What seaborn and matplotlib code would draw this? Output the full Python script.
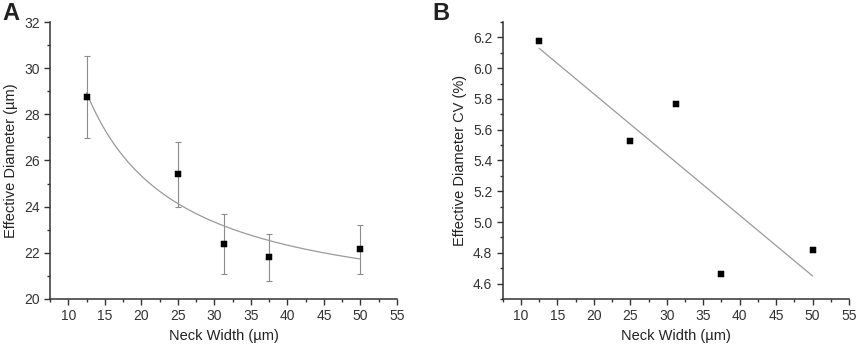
import matplotlib
matplotlib.use("Agg")
import matplotlib.pyplot as plt
import numpy as np
import pandas as pd
import seaborn as sns
from matplotlib.ticker import MultipleLocator

# data
neck_width = [12.5, 25, 31.25, 37.5, 50]
eff_diam = [28.75, 25.4, 22.4, 21.8, 22.15]
eff_diam_err = [1.78, 1.4, 1.3, 1.02, 1.07]
eff_cv = [6.175, 5.525, 5.765, 4.66, 4.82]

sns.set_style("ticks")
plt.rcParams['font.family'] = ['Liberation Sans', 'DejaVu Sans']
plt.rcParams['axes.edgecolor'] = '#333333'
plt.rcParams['xtick.color'] = '#333333'
plt.rcParams['ytick.color'] = '#333333'
plt.rcParams['text.color'] = '#222222'
plt.rcParams['axes.labelcolor'] = '#222222'

df = pd.DataFrame({'w': neck_width, 'd': eff_diam, 'err': eff_diam_err, 'cv': eff_cv})

fig = plt.figure(figsize=(8.58, 3.44), dpi=100)
axA = fig.add_axes([0.0583, 0.131, 0.4044, 0.805])
axB = fig.add_axes([0.586, 0.131, 0.4035, 0.805])

# panel A: fit y = a + b/x
b, a = np.polyfit(1 / df['w'], df['d'], 1)
xs = np.linspace(12.5, 50, 200)
fit = pd.DataFrame({'x': xs, 'y': a + b / xs})
axA.errorbar(df['w'], df['d'], yerr=df['err'], fmt='none', ecolor='#8c8c8c',
             elinewidth=0.8, capsize=2.5, capthick=0.8, zorder=1)
sns.lineplot(data=fit, x='x', y='y', ax=axA, color='#9a9a9a', lw=0.9, zorder=2)
sns.scatterplot(data=df, x='w', y='d', ax=axA, marker='s', color='black',
                s=20, edgecolor='black', zorder=3)
axA.set_xlim(7.5, 55)
axA.set_ylim(20, 32)
axA.xaxis.set_major_locator(MultipleLocator(5))
axA.xaxis.set_minor_locator(MultipleLocator(2.5))
axA.yaxis.set_major_locator(MultipleLocator(2))
axA.yaxis.set_minor_locator(MultipleLocator(1))
axA.set_xlabel('Neck Width (µm)', fontsize=10.5)
axA.set_ylabel('Effective Diameter (µm)', fontsize=10.5)

# panel B: linear fit
sns.regplot(data=df, x='w', y='cv', ax=axB, scatter=False, ci=None, truncate=True,
            line_kws={'color': '#9a9a9a', 'lw': 0.9})
sns.scatterplot(data=df, x='w', y='cv', ax=axB, marker='s', color='black',
                s=20, edgecolor='black', zorder=3)
axB.set_xlim(7.5, 55)
axB.set_ylim(4.5, 6.3)
axB.xaxis.set_major_locator(MultipleLocator(5))
axB.xaxis.set_minor_locator(MultipleLocator(2.5))
axB.yaxis.set_major_locator(MultipleLocator(0.2))
axB.yaxis.set_minor_locator(MultipleLocator(0.1))
axB.yaxis.set_major_formatter(matplotlib.ticker.FormatStrFormatter('%.1f'))
axB.set_xlabel('Neck Width (µm)', fontsize=10.5)
axB.set_ylabel('Effective Diameter CV (%)', fontsize=10.5)

for ax in (axA, axB):
    sns.despine(ax=ax)
    ax.tick_params(which='major', length=4, width=1, labelsize=10)
    ax.tick_params(which='minor', length=2.5, width=1)
    for s in ax.spines.values():
        s.set_linewidth(1.1)

fig.text(0.003, 0.995, 'A', fontsize=17, fontweight='bold', va='top', ha='left')
fig.text(0.504, 0.995, 'B', fontsize=17, fontweight='bold', va='top', ha='left')

fig.savefig('out.png', dpi=100)
